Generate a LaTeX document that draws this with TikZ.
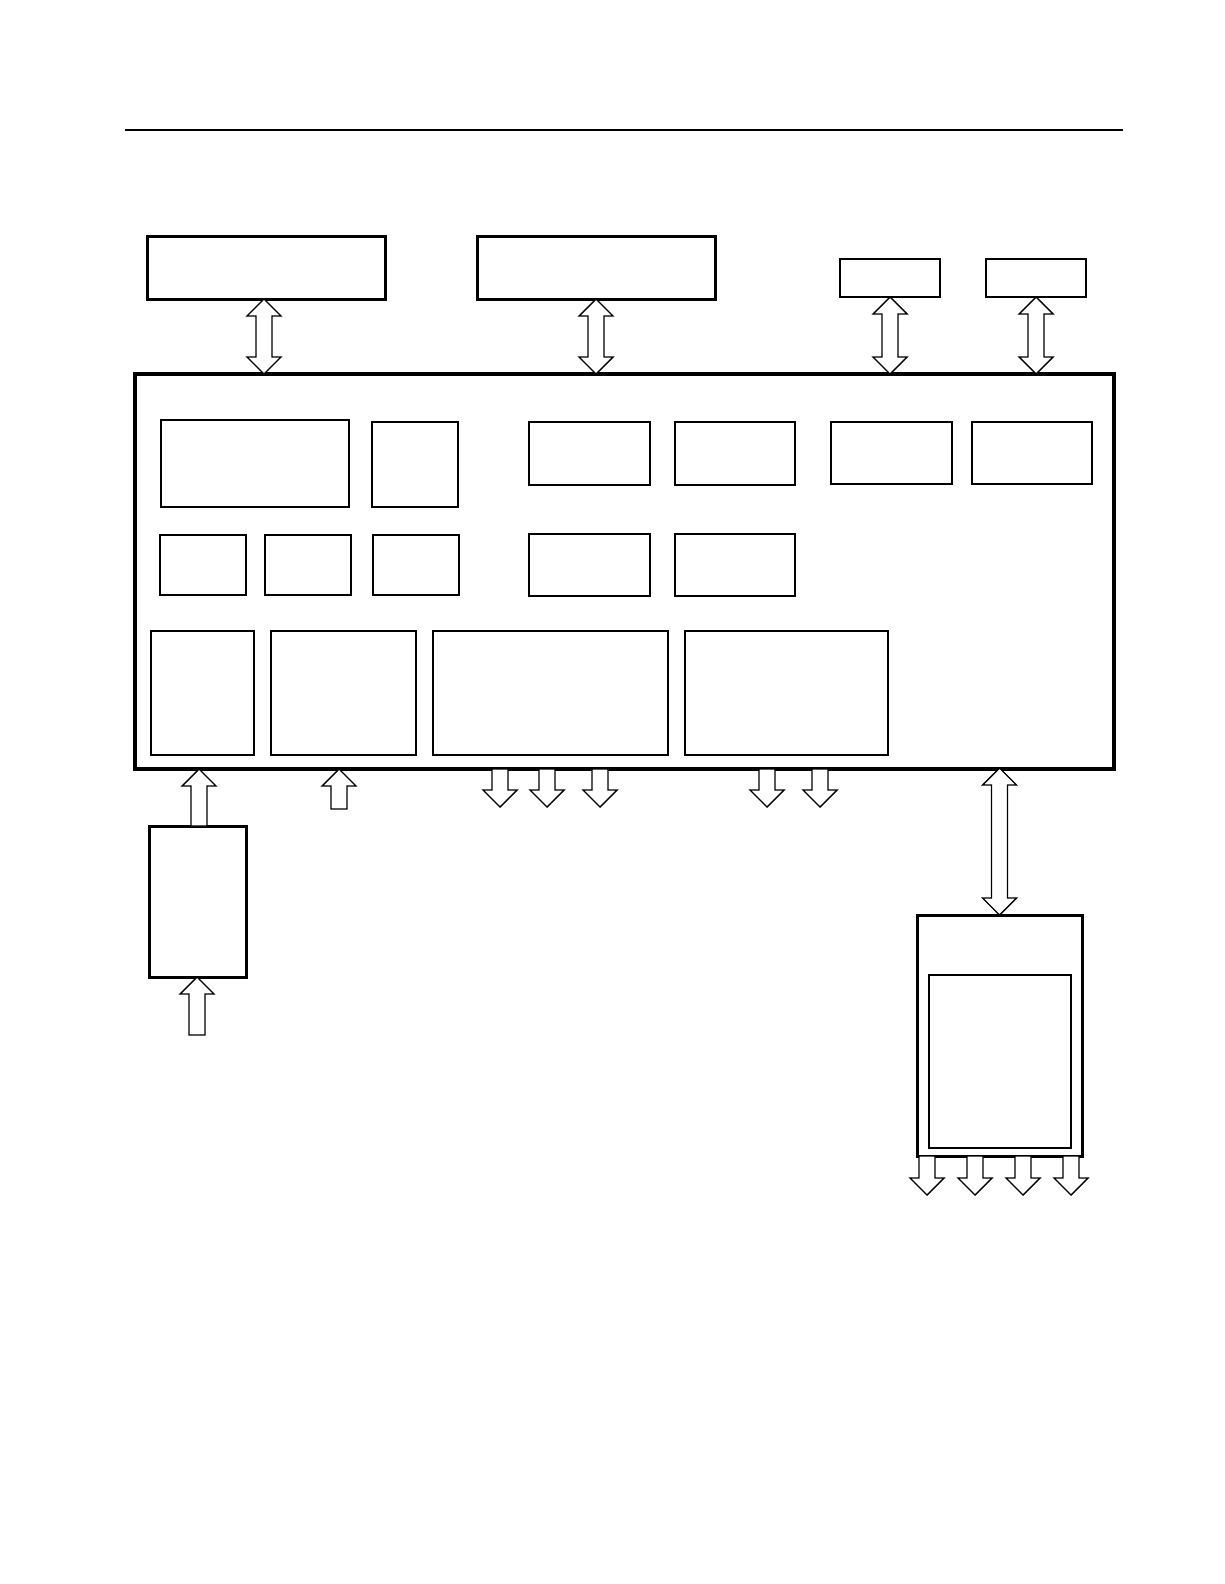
\documentclass[tikz,border=0pt]{standalone}
\usetikzlibrary{calc}
\tikzset{
  heavybox/.style={draw, line width=3pt, rectangle, inner sep=0pt, outer sep=0pt, fill=white},
  mainbox/.style={draw, line width=3.2pt, rectangle, inner sep=0pt, outer sep=0pt},
  thinbox/.style={draw, line width=1.4pt, rectangle, inner sep=0pt, outer sep=0pt},
  blk/.style={draw, line width=1.4pt, fill=white, line join=miter},
}
% box: name, x1, y1, x2, y2, style
\newcommand{\bx}[6]{\node[#6, anchor=north west, minimum width={#4pt-#2pt}, minimum height={#5pt-#3pt}] (#1) at (#2,#3) {};}
% single hollow vertical arrow: from #1 (base) to #2 (tip), x taken from tip
\newcommand{\sarrow}[2]{%
  \draw[blk] let \p1=(#1), \p2=(#2), \n1={sign(\y2-\y1)} in
  (\x2-8pt,\y1) -- (\x2-8pt,\y2-\n1*17pt) -- (\x2-17pt,\y2-\n1*17pt) -- (\x2,\y2)
  -- (\x2+17pt,\y2-\n1*17pt) -- (\x2+8pt,\y2-\n1*17pt) -- (\x2+8pt,\y1) -- cycle;}
% double hollow vertical arrow between tips #1 and #2, x taken from #2
\newcommand{\darrow}[2]{%
  \draw[blk] let \p1=(#1), \p2=(#2), \n1={sign(\y2-\y1)} in
  (\x2,\y1) -- (\x2-17pt,\y1+\n1*17pt) -- (\x2-8pt,\y1+\n1*17pt) -- (\x2-8pt,\y2-\n1*17pt)
  -- (\x2-17pt,\y2-\n1*17pt) -- (\x2,\y2) -- (\x2+17pt,\y2-\n1*17pt) -- (\x2+8pt,\y2-\n1*17pt)
  -- (\x2+8pt,\y1+\n1*17pt) -- (\x2+17pt,\y1+\n1*17pt) -- cycle;}
\begin{document}
\begin{tikzpicture}[x=1pt,y=-1pt]
\useasboundingbox (0,0) rectangle (1224,1584);
% top rule
\coordinate (ruleL) at (125,130);
\coordinate (ruleR) at (1123,130);
\draw[line width=2pt] (ruleL) -- (ruleR);
% top boxes
\bx{A}{147}{236}{385}{299}{heavybox}
\bx{B}{477}{236}{715}{299}{heavybox}
\bx{C}{840}{259}{940}{297}{thinbox}
\bx{D}{986}{259}{1086}{297}{thinbox}
% main box
\bx{M}{135}{374}{1114}{769}{mainbox}
% inner boxes row 1
\bx{r1a}{161}{420}{349}{507}{thinbox}
\bx{r1b}{372}{422}{458}{507}{thinbox}
\bx{r1c}{529}{422}{650}{485}{thinbox}
\bx{r1d}{675}{422}{795}{485}{thinbox}
\bx{r1e}{831}{422}{952}{484}{thinbox}
\bx{r1f}{972}{422}{1092}{484}{thinbox}
% row 2
\bx{r2a}{160}{535}{246}{595}{thinbox}
\bx{r2b}{265}{535}{351}{595}{thinbox}
\bx{r2c}{373}{535}{459}{595}{thinbox}
\bx{r2d}{529}{534}{650}{596}{thinbox}
\bx{r2e}{675}{534}{795}{596}{thinbox}
% row 3
\bx{r3a}{151}{631}{254}{755}{thinbox}
\bx{r3b}{271}{631}{416}{755}{thinbox}
\bx{r3c}{433}{631}{668}{755}{thinbox}
\bx{r3d}{685}{631}{888}{755}{thinbox}
% lower boxes
\bx{E}{149}{826}{246}{977}{heavybox}
\bx{F}{917}{915}{1082}{1156}{heavybox}
\bx{Fin}{929}{975}{1071}{1148}{thinbox}
% top connectors
\darrow{[xshift=-2pt]A.south}{[xshift=-2pt]A.south |- M.north}
\darrow{B.south}{B.south |- M.north}
\darrow{C.south}{C.south |- M.north}
\darrow{D.south}{D.south |- M.north}
% E -> main
\sarrow{[xshift=1.5pt]E.north}{[xshift=1.5pt]E.north |- M.south}
% free input arrows
\coordinate (in1) at (339,809);
\sarrow{in1}{in1 |- M.south}
\coordinate (in2) at (197,1035);
\sarrow{in2}{in2 |- E.south}
% outputs from main
\coordinate (o1) at (500,807);
\coordinate (o2) at (547,807);
\coordinate (o3) at (600,807);
\coordinate (o4) at (767,807);
\coordinate (o5) at (820,807);
\foreach \o in {o1,o2,o3,o4,o5} {\sarrow{\o |- M.south}{\o}}
% main <-> F
\darrow{[yshift=1pt]F.north |- M.south}{F.north}
% outputs from F
\coordinate (f1) at (927,1195);
\coordinate (f2) at (975,1195);
\coordinate (f3) at (1023,1195);
\coordinate (f4) at (1071,1195);
\foreach \f in {f1,f2,f3,f4} {\sarrow{\f |- F.south}{\f}}
\end{tikzpicture}
\end{document}
